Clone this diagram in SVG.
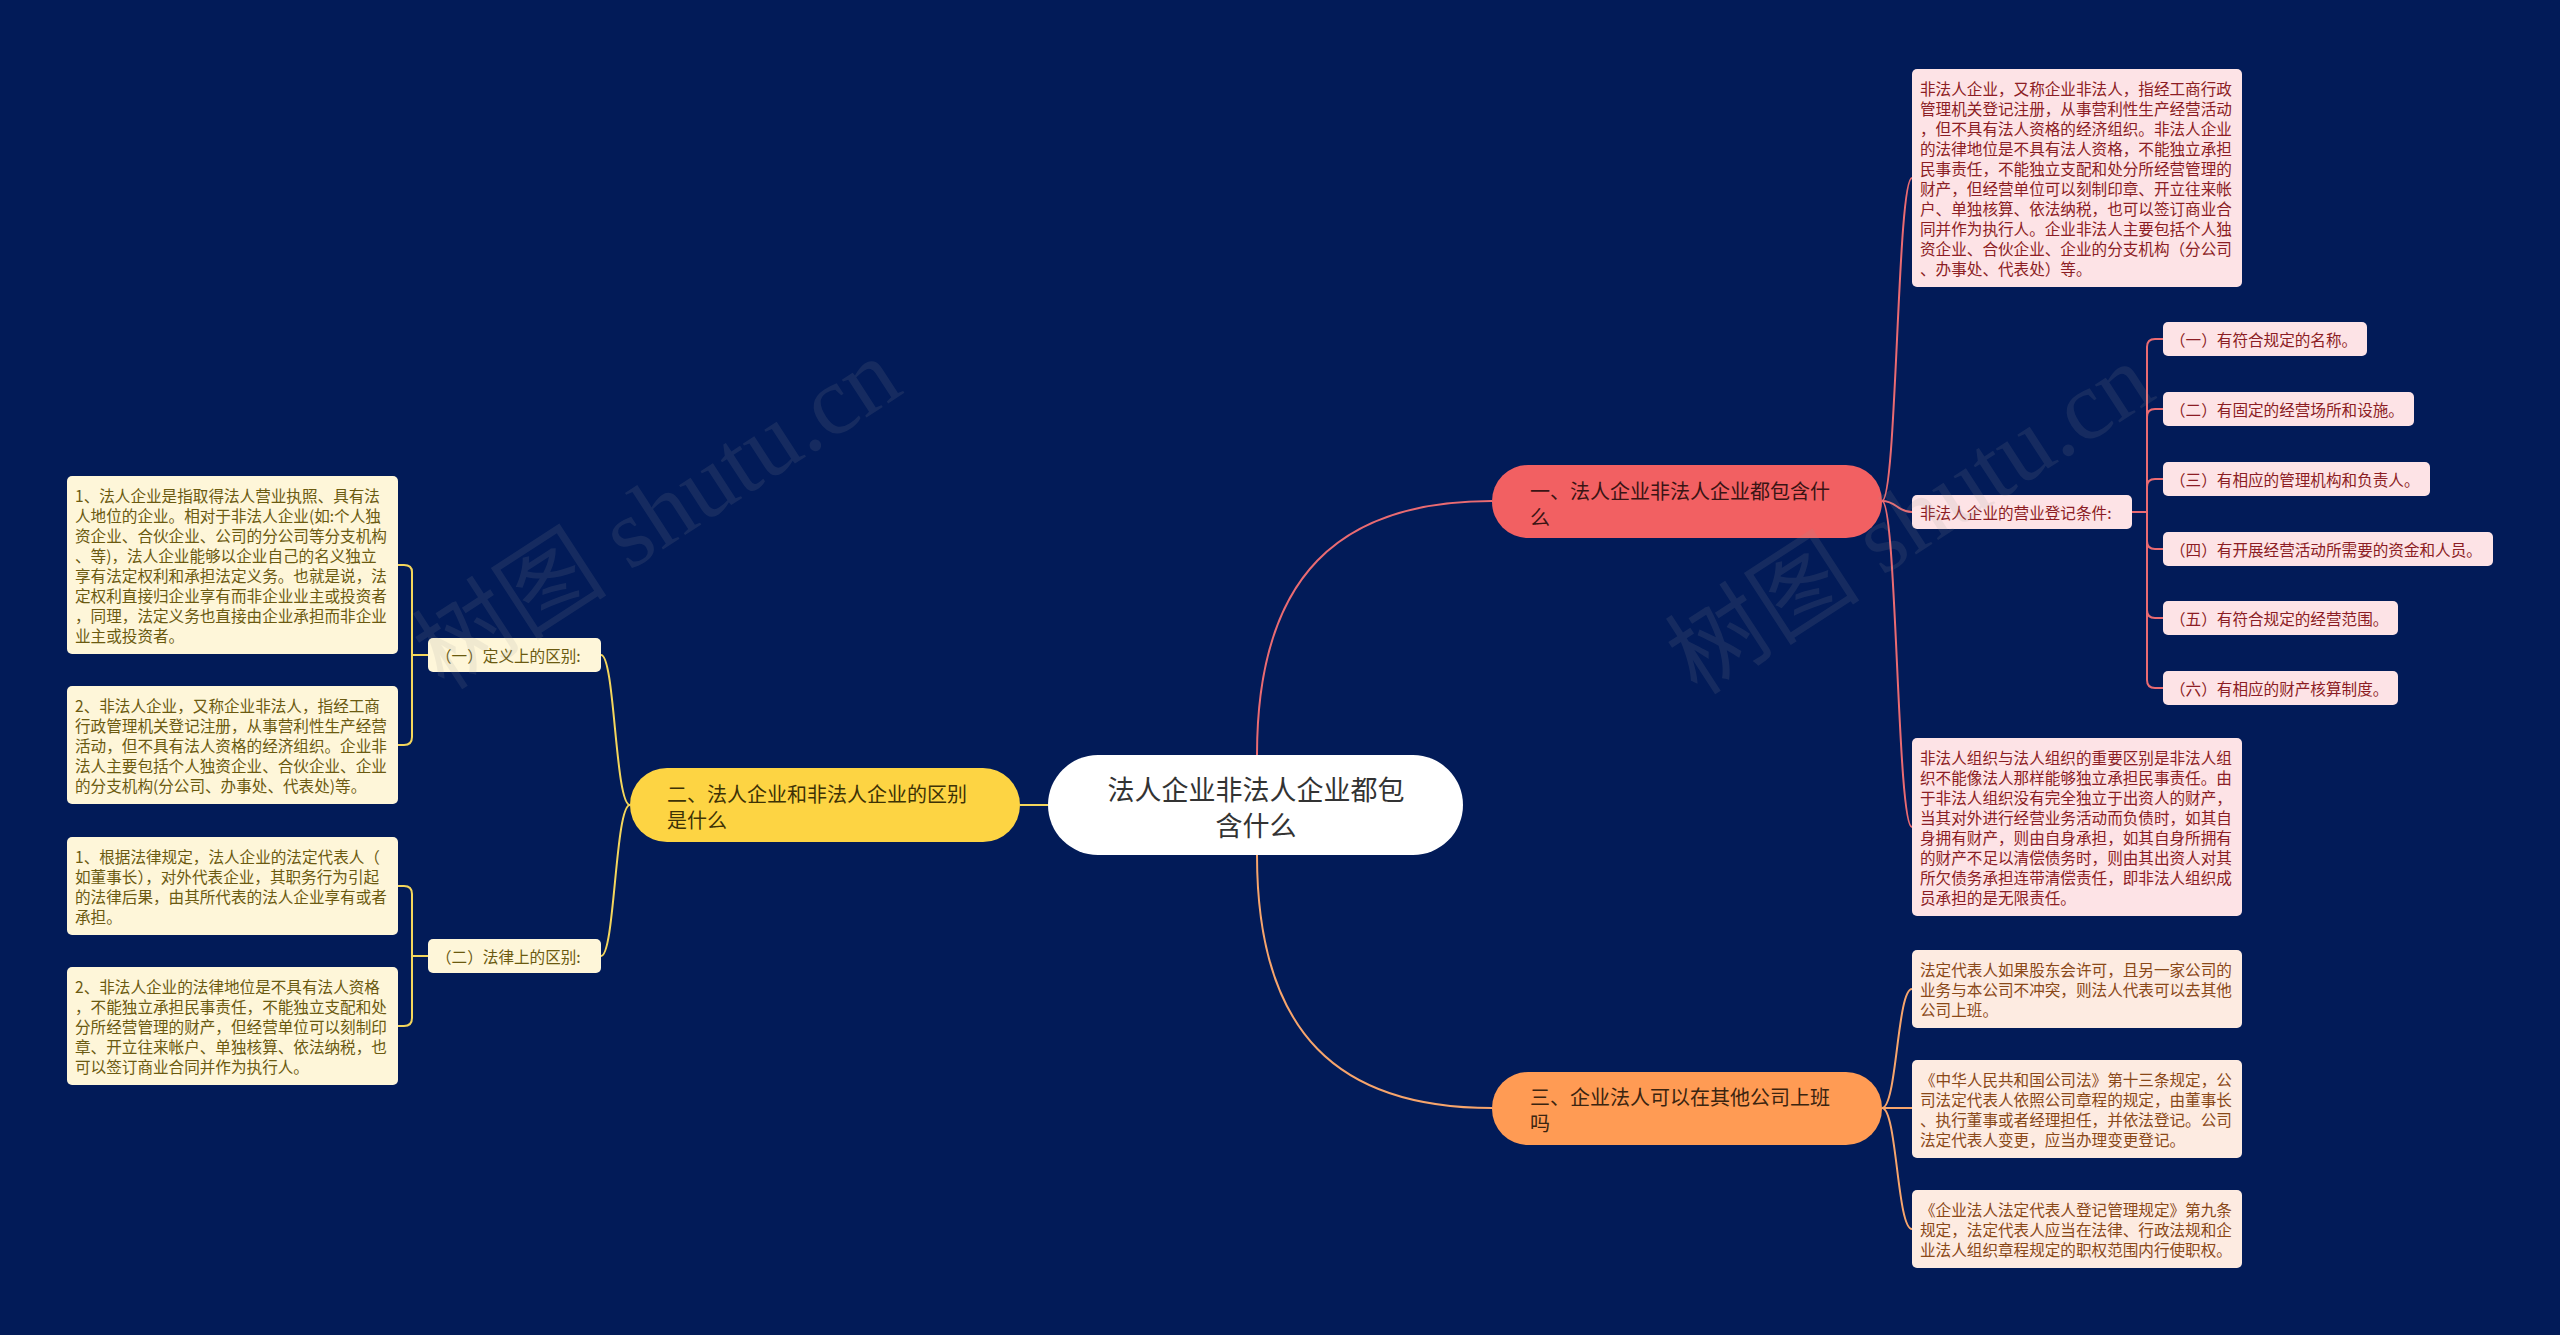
<svg xmlns="http://www.w3.org/2000/svg" width="2560" height="1335" viewBox="0 0 2560 1335">
<style>
text{font-family:"Noto Sans CJK SC","Noto Sans",sans-serif;dominant-baseline:central}
.bg{fill:#021b58}
.ln{fill:none;stroke-width:2}
.lr{stroke:#ea6b72}
.lo{stroke:#f7a56c}
.ly{stroke:#f4d65c}
.pk{fill:#fde3e6}
.pkt{fill:#8c1d24;font-size:15.6px}
.pc{fill:#fdebe1}
.pct{fill:#8a4818;font-size:15.6px}
.cr{fill:#fef6d9}
.crt{fill:#6b5a10;font-size:15.6px}
.bt{font-size:20px}
.wm{font-family:"Liberation Serif","Noto Sans CJK SC",serif;fill:#9a9a9a;opacity:0.13;font-size:98px;dominant-baseline:central}
</style>
<rect class="bg" x="0" y="0" width="2560" height="1335"/>

<g id="connectors">
  <path class="ln lr" d="M1257 755 C1257 575 1340 501 1492 501"/>
  <path class="ln lo" d="M1257 855 C1257 1035 1340 1108 1492 1108"/>
  <path class="ln ly" d="M1048 805 L1020 805"/>
  <path class="ln lr" d="M1882 501 C1897 501 1897 178 1912 178"/>
  <path class="ln lr" d="M1882 501 C1897 501 1897 512 1912 512"/>
  <path class="ln lr" d="M1882 501 C1897 501 1897 827 1912 827"/>
  <path class="ln lr" d="M2132 512 H2147 V347 Q2147 339 2155 339 H2163"/>
  <path class="ln lr" d="M2132 512 H2147 V417 Q2147 409 2155 409 H2163"/>
  <path class="ln lr" d="M2132 512 H2147 V487 Q2147 479 2155 479 H2163"/>
  <path class="ln lr" d="M2132 512 H2147 V541 Q2147 549 2155 549 H2163"/>
  <path class="ln lr" d="M2132 512 H2147 V610 Q2147 618 2155 618 H2163"/>
  <path class="ln lr" d="M2132 512 H2147 V680 Q2147 688 2155 688 H2163"/>
  <path class="ln lo" d="M1882 1108 C1897 1108 1897 989 1912 989"/>
  <path class="ln lo" d="M1882 1108 L1912 1108"/>
  <path class="ln lo" d="M1882 1108 C1897 1108 1897 1229 1912 1229"/>
  <path class="ln ly" d="M630 805 C615 805 615 655 601 655"/>
  <path class="ln ly" d="M630 805 C615 805 615 956 601 956"/>
  <path class="ln ly" d="M428 655 H412 V572 Q412 565 404 565 H398"/>
  <path class="ln ly" d="M428 655 H412 V737 Q412 745 404 745 H398"/>
  <path class="ln ly" d="M428 956 H412 V894 Q412 886 404 886 H398"/>
  <path class="ln ly" d="M428 956 H412 V1018 Q412 1026 404 1026 H398"/>
</g>

<g id="center">
  <rect x="1048" y="755" width="415" height="100" rx="50" fill="#ffffff"/>
  <text x="1256" y="788" text-anchor="middle" font-size="27" fill="#333333">法人企业非法人企业都包</text>
  <text x="1256" y="824" text-anchor="middle" font-size="27" fill="#333333">含什么</text>
</g>

<g id="branch1">
  <rect x="1492" y="465" width="390" height="73" rx="36" fill="#f26062"/>
  <text class="bt" x="1530" y="490" fill="#3a1414">一、法人企业非法人企业都包含什</text>
  <text class="bt" x="1530" y="516" fill="#3a1414">么</text>
</g>

<g id="branch2">
  <rect x="630" y="768" width="390" height="74" rx="37" fill="#fdd443"/>
  <text class="bt" x="667" y="793" fill="#3d3206">二、法人企业和非法人企业的区别</text>
  <text class="bt" x="667" y="819" fill="#3d3206">是什么</text>
</g>

<g id="branch3">
  <rect x="1492" y="1072" width="390" height="73" rx="36" fill="#ff9b54"/>
  <text class="bt" x="1530" y="1096" fill="#3b2410">三、企业法人可以在其他公司上班</text>
  <text class="bt" x="1530" y="1122" fill="#3b2410">吗</text>
</g>

<g id="r1-text">
  <rect class="pk" x="1912" y="69" width="330" height="218" rx="5"/>
  <text class="pkt" x="1920" y="88">非法人企业，又称企业非法人，指经工商行政</text>
  <text class="pkt" x="1920" y="108">管理机关登记注册，从事营利性生产经营活动</text>
  <text class="pkt" x="1920" y="128">，但不具有法人资格的经济组织。非法人企业</text>
  <text class="pkt" x="1920" y="148">的法律地位是不具有法人资格，不能独立承担</text>
  <text class="pkt" x="1920" y="168">民事责任，不能独立支配和处分所经营管理的</text>
  <text class="pkt" x="1920" y="188">财产，但经营单位可以刻制印章、开立往来帐</text>
  <text class="pkt" x="1920" y="208">户、单独核算、依法纳税，也可以签订商业合</text>
  <text class="pkt" x="1920" y="228">同并作为执行人。企业非法人主要包括个人独</text>
  <text class="pkt" x="1920" y="248">资企业、合伙企业、企业的分支机构（分公司</text>
  <text class="pkt" x="1920" y="268">、办事处、代表处）等。</text>
</g>

<g id="r1-cond">
  <rect class="pk" x="1912" y="495" width="220" height="34" rx="5"/>
  <text class="pkt" x="1920" y="512">非法人企业的营业登记条件:</text>
</g>
<g id="r1-c1">
  <rect class="pk" x="2163" y="322" width="204" height="34" rx="5"/>
  <text class="pkt" x="2170" y="339">（一）有符合规定的名称。</text>
</g>
<g id="r1-c2">
  <rect class="pk" x="2163" y="392" width="251" height="34" rx="5"/>
  <text class="pkt" x="2170" y="409">（二）有固定的经营场所和设施。</text>
</g>
<g id="r1-c3">
  <rect class="pk" x="2163" y="462" width="267" height="34" rx="5"/>
  <text class="pkt" x="2170" y="479">（三）有相应的管理机构和负责人。</text>
</g>
<g id="r1-c4">
  <rect class="pk" x="2163" y="532" width="330" height="34" rx="5"/>
  <text class="pkt" x="2170" y="549">（四）有开展经营活动所需要的资金和人员。</text>
</g>
<g id="r1-c5">
  <rect class="pk" x="2163" y="601" width="235" height="34" rx="5"/>
  <text class="pkt" x="2170" y="618">（五）有符合规定的经营范围。</text>
</g>
<g id="r1-c6">
  <rect class="pk" x="2163" y="671" width="235" height="34" rx="5"/>
  <text class="pkt" x="2170" y="688">（六）有相应的财产核算制度。</text>
</g>

<g id="r1-diff">
  <rect class="pk" x="1912" y="738" width="330" height="178" rx="5"/>
  <text class="pkt" x="1920" y="757">非法人组织与法人组织的重要区别是非法人组</text>
  <text class="pkt" x="1920" y="777">织不能像法人那样能够独立承担民事责任。由</text>
  <text class="pkt" x="1920" y="797">于非法人组织没有完全独立于出资人的财产，</text>
  <text class="pkt" x="1920" y="817">当其对外进行经营业务活动而负债时，如其自</text>
  <text class="pkt" x="1920" y="837">身拥有财产，则由自身承担，如其自身所拥有</text>
  <text class="pkt" x="1920" y="857">的财产不足以清偿债务时，则由其出资人对其</text>
  <text class="pkt" x="1920" y="877">所欠债务承担连带清偿责任，即非法人组织成</text>
  <text class="pkt" x="1920" y="897">员承担的是无限责任。</text>
</g>

<g id="r3-a">
  <rect class="pc" x="1912" y="950" width="330" height="78" rx="5"/>
  <text class="pct" x="1920" y="969">法定代表人如果股东会许可，且另一家公司的</text>
  <text class="pct" x="1920" y="989">业务与本公司不冲突，则法人代表可以去其他</text>
  <text class="pct" x="1920" y="1009">公司上班。</text>
</g>
<g id="r3-b">
  <rect class="pc" x="1912" y="1060" width="330" height="98" rx="5"/>
  <text class="pct" x="1920" y="1079">《中华人民共和国公司法》第十三条规定，公</text>
  <text class="pct" x="1920" y="1099">司法定代表人依照公司章程的规定，由董事长</text>
  <text class="pct" x="1920" y="1119">、执行董事或者经理担任，并依法登记。公司</text>
  <text class="pct" x="1920" y="1139">法定代表人变更，应当办理变更登记。</text>
</g>
<g id="r3-c">
  <rect class="pc" x="1912" y="1190" width="330" height="78" rx="5"/>
  <text class="pct" x="1920" y="1209">《企业法人法定代表人登记管理规定》第九条</text>
  <text class="pct" x="1920" y="1229">规定，法定代表人应当在法律、行政法规和企</text>
  <text class="pct" x="1920" y="1249">业法人组织章程规定的职权范围内行使职权。</text>
</g>

<g id="l2-def">
  <rect class="cr" x="428" y="638" width="173" height="34" rx="5"/>
  <text class="crt" x="436" y="655">（一）定义上的区别:</text>
</g>
<g id="l2-law">
  <rect class="cr" x="428" y="939" width="173" height="34" rx="5"/>
  <text class="crt" x="436" y="956">（二）法律上的区别:</text>
</g>

<g id="l2-def-1">
  <rect class="cr" x="67" y="476" width="331" height="178" rx="5"/>
  <text class="crt" x="75" y="495">1、法人企业是指取得法人营业执照、具有法</text>
  <text class="crt" x="75" y="515">人地位的企业。相对于非法人企业(如:个人独</text>
  <text class="crt" x="75" y="535">资企业、合伙企业、公司的分公司等分支机构</text>
  <text class="crt" x="75" y="555">、等)，法人企业能够以企业自己的名义独立</text>
  <text class="crt" x="75" y="575">享有法定权利和承担法定义务。也就是说，法</text>
  <text class="crt" x="75" y="595">定权利直接归企业享有而非企业业主或投资者</text>
  <text class="crt" x="75" y="615">，同理，法定义务也直接由企业承担而非企业</text>
  <text class="crt" x="75" y="635">业主或投资者。</text>
</g>
<g id="l2-def-2">
  <rect class="cr" x="67" y="686" width="331" height="118" rx="5"/>
  <text class="crt" x="75" y="705">2、非法人企业，又称企业非法人，指经工商</text>
  <text class="crt" x="75" y="725">行政管理机关登记注册，从事营利性生产经营</text>
  <text class="crt" x="75" y="745">活动，但不具有法人资格的经济组织。企业非</text>
  <text class="crt" x="75" y="765">法人主要包括个人独资企业、合伙企业、企业</text>
  <text class="crt" x="75" y="785">的分支机构(分公司、办事处、代表处)等。</text>
</g>
<g id="l2-law-1">
  <rect class="cr" x="67" y="837" width="331" height="98" rx="5"/>
  <text class="crt" x="75" y="856">1、根据法律规定，法人企业的法定代表人（</text>
  <text class="crt" x="75" y="876">如董事长），对外代表企业，其职务行为引起</text>
  <text class="crt" x="75" y="896">的法律后果，由其所代表的法人企业享有或者</text>
  <text class="crt" x="75" y="916">承担。</text>
</g>
<g id="l2-law-2">
  <rect class="cr" x="67" y="967" width="331" height="118" rx="5"/>
  <text class="crt" x="75" y="986">2、非法人企业的法律地位是不具有法人资格</text>
  <text class="crt" x="75" y="1006">，不能独立承担民事责任，不能独立支配和处</text>
  <text class="crt" x="75" y="1026">分所经营管理的财产，但经营单位可以刻制印</text>
  <text class="crt" x="75" y="1046">章、开立往来帐户、单独核算、依法纳税，也</text>
  <text class="crt" x="75" y="1066">可以签订商业合同并作为执行人。</text>
</g>

<g id="watermark">
  <text class="wm" x="657" y="514" text-anchor="middle" transform="rotate(-33 657 514)">树图 shutu.cn</text>
  <text class="wm" x="1910" y="519" text-anchor="middle" transform="rotate(-33 1910 519)">树图 shutu.cn</text>
</g>
</svg>
